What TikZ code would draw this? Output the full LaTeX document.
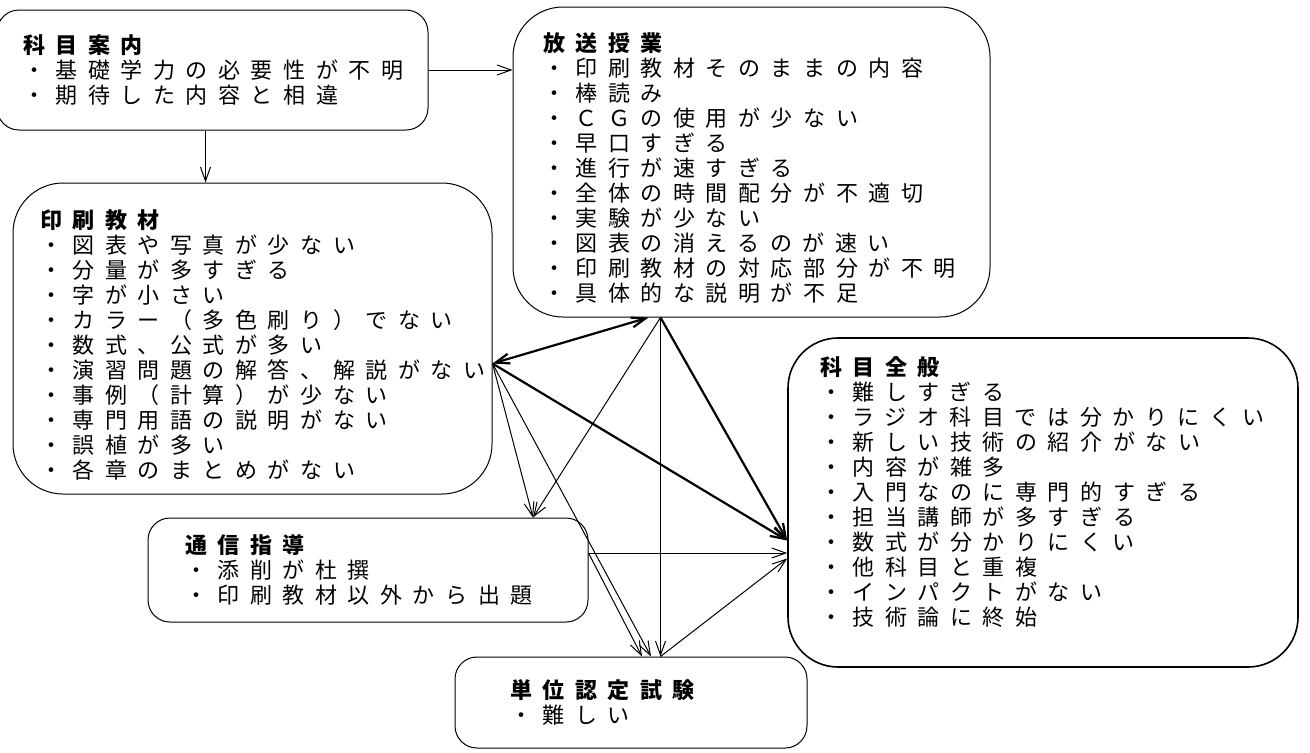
\documentclass[tikz,border=0pt]{standalone}
\usepackage{fontspec}
\setmainfont{Noto Sans CJK JP}[LetterSpace=48]
\usepackage{tikz}
\usetikzlibrary{positioning,arrows.meta,calc}

\begin{document}
\begin{tikzpicture}[x=0.5pt, y=-0.5pt,
    >={Straight Barb[length=7pt,width=5pt]},
    every node/.style = {font=\fontsize{11}{12.5}\selectfont},
    panel/.style = {draw, rounded corners=11pt, align=left,
      inner sep=0pt, line width=0.5pt},
    bigpanel/.style = {panel, rounded corners=25pt},
    link/.style = {->, line width=0.5pt},
    heavylink/.style = {->, line width=1.1pt}]

    \useasboundingbox (0,0) rectangle (1310,752);

    \node[panel, minimum width=215.5pt, minimum height=60pt, text width=189.5pt] (annai) at (212.5,70)
        {\textbf{科目案内}\\・基礎学力の必要性が不明\\・期待した内容と相違};
    \node[bigpanel, minimum width=238.5pt, minimum height=155pt, text width=208.5pt] (hoso) at (751.5,162)
        {\rule{0pt}{15.5pt}\textbf{放送授業}\\・印刷教材そのままの内容\\・棒読み\\・ＣＧの使用が少ない\\・早口すぎる\\・進行が速すぎる\\
         ・全体の時間配分が不適切\\・実験が少ない\\・図表の消えるのが速い\\・印刷教材の対応部分が不明\\・具体的な説明が不足};
    \node[bigpanel, minimum width=239.5pt, minimum height=155.5pt, text width=212.5pt] (insatsu) at (252.5,338.5)
        {\rule{0pt}{15.5pt}\textbf{印刷教材}\\・図表や写真が少ない\\・分量が多すぎる\\・字が小さい\\・カラー（多色刷り）でない\\・数式、公式が多い\\
         ・演習問題の解答、解説がない\\・事例（計算）が少ない\\・専門用語の説明がない\\・誤植が多い\\・各章のまとめがない};
    \node[panel, minimum width=220pt, minimum height=52pt, text width=183pt] (tsushin) at (368,570)
        {\textbf{通信指導}\\・添削が杜撰\\・印刷教材以外から出題};
    \node[bigpanel, line width=0.8pt, minimum width=255pt, minimum height=164.5pt, text width=223pt] (zenpan) at (1043,502.5)
        {\textbf{科目全般}\\・難しすぎる\\・ラジオ科目では分かりにくい\\・新しい技術の紹介がない\\・内容が雑多\\
         ・入門なのに専門的すぎる\\・担当講師が多すぎる\\・数式が分かりにくい\\・他科目と重複\\・インパクトがない\\・技術論に終始\rule[-11pt]{0pt}{11pt}};
    \node[panel, minimum width=176pt, minimum height=45.5pt, text width=121pt] (tani) at (631,702.5)
        {\textbf{単位認定試験}\\・難しい};

    % ends of the connectors
    \coordinate (annaiB) at ($(annai.south)+(-7,0)$);
    \coordinate (insR) at ($(insatsu.east)+(0,25)$);
    \coordinate (hosoB) at ($(hoso.south)+(-91,0)$);
    \coordinate (hosoL) at ($(hoso.south)+(-103,0)$);
    \coordinate (tsuT) at ($(tsushin.north)+(165,0)$);
    \coordinate (tsuR) at ($(tsushin.east)+(0,-17)$);
    \coordinate (zenL) at ($(zenpan.west)+(0,38)$);
    \coordinate (zenT) at ($(zenpan.west)+(0,56)$);
    \coordinate (taniA) at ($(tani.north)+(11,0)$);
    \coordinate (taniB) at ($(tani.north)+(20,0)$);
    \coordinate (taniC) at (hosoB |- tani.north);

    \draw[link] (annai.east) -- (annai.east -| hoso.west);
    \draw[link] (annaiB) -- (annaiB |- insatsu.north);
    \draw[heavylink, <->] (insR) -- (hosoL);
    \draw[heavylink] (insR) -- (zenL);
    \draw[heavylink] (hosoB) -- (zenL);
    \draw[link] (insR) -- (tsuT);
    \draw[link] (hosoB) -- (tsuT);
    \draw[link] (insR) -- (taniB);
    \draw[link] (hosoB) -- (taniC);
    \draw[link] (tsuR) -- (taniA);
    \draw[link] (tsuR) -- (tsuR -| zenpan.west);
    \draw[link] (taniC) -- (zenT);
\end{tikzpicture}
\end{document}
